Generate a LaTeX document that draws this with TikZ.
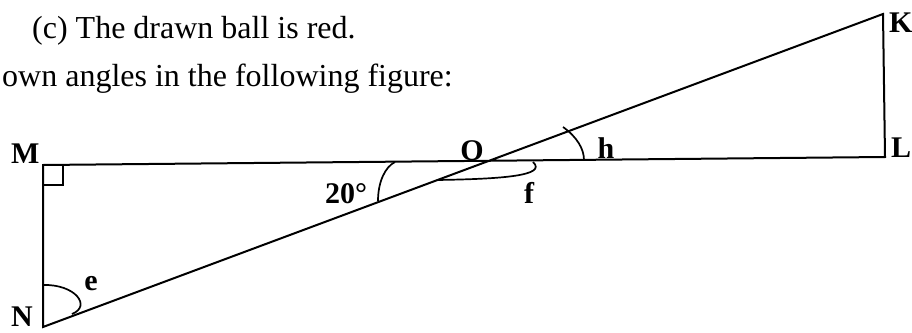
\documentclass[tikz,border=0pt]{standalone}
\usepackage{fontspec}
\setmainfont{Liberation Serif}
\begin{document}
\begin{tikzpicture}[x=1pt,y=-1pt,
  fig/.style={line width=2pt, line join=miter},
  arcline/.style={line width=1.7pt},
  lbl/.style={font=\fontsize{30}{32}\selectfont\bfseries, inner sep=0pt},
  txt/.style={font=\fontsize{32}{38}\selectfont, inner sep=0pt}]
\useasboundingbox (0,0) rectangle (912,332);
\coordinate (M) at (43,165);
\coordinate (N) at (43,327);
\coordinate (L) at (885,157);
\coordinate (K) at (883,14);
\coordinate (O) at (intersection of M--L and N--K);
% text
\node[txt, anchor=base west] (t1) at (32,38) {(c) The drawn ball is red.};
\node[txt, anchor=base west] (t2) at (2,86) {own angles in the following figure:};
% figure
\draw[fig] (K) -- (L) -- (M) -- (N) -- cycle;
\draw[line width=1.4pt] ([yshift=-20pt]M) -| ([xshift=20pt]M);
% angle arcs
\draw[arcline] (395,162) .. controls (385,167) and (378,182) .. (378,201);
\draw[arcline] (437,180) .. controls (500,179) and (548,176) .. (533,162);
\draw[arcline] (563,127) .. controls (577,137) and (584,149) .. (584,160);
\draw[arcline] (43,285) .. controls (75,284) and (92,306) .. (72,314);
% labels
\node[lbl, anchor=base west] (lM) at (11,163) {M};
\node[lbl, anchor=base west] (lN) at (11,326) {N};
\node[lbl, anchor=base] (lO) at (472,160) {O};
\node[lbl, anchor=base] (lh) at (606,158) {h};
\node[lbl, anchor=base] (lf) at (529,203) {f};
\node[lbl, anchor=base west] (l20) at (325,203) {20°};
\node[lbl, anchor=base] (le) at (91,290) {e};
\node[lbl, anchor=base west] (lK) at (889,32) {K};
\node[lbl, anchor=base west] (lL) at (891,157) {L};
\end{tikzpicture}
\end{document}
